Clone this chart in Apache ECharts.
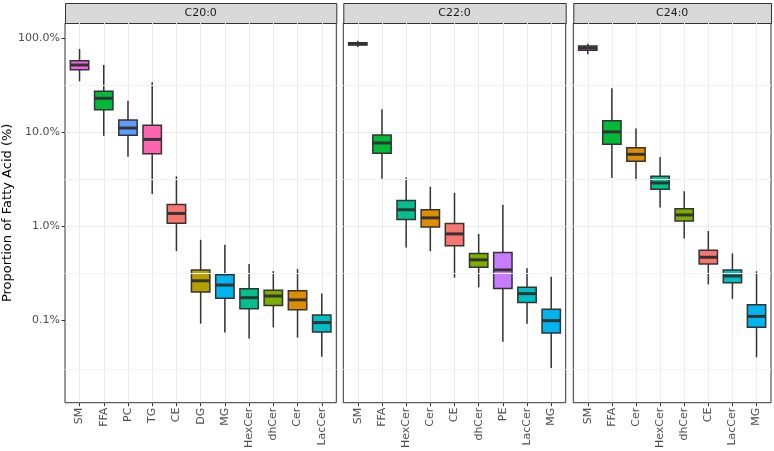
<!DOCTYPE html>
<html>
<head>
<meta charset="utf-8">
<script src="https://cdn.jsdelivr.net/npm/echarts@6/dist/echarts.min.js"></script>
<style>
  html, body { margin: 0; padding: 0; background: #fff; }
  #main { width: 774px; height: 451px; }
</style>
</head>
<body>
<div id="main"></div>
<script>
// facet titles
var facets = ['C20:0', 'C22:0', 'C24:0'];

// lipid classes in each facet, in plotted order
var c20Classes = ['SM', 'FFA', 'PC', 'TG', 'CE', 'DG', 'MG', 'HexCer', 'dhCer', 'Cer', 'LacCer'];
var c22Classes = ['SM', 'FFA', 'HexCer', 'Cer', 'CE', 'dhCer', 'PE', 'LacCer', 'MG'];
var c24Classes = ['SM', 'FFA', 'Cer', 'HexCer', 'dhCer', 'CE', 'LacCer', 'MG'];

// box stats in % : [lower whisker, Q1, median, Q3, upper whisker]
var c20Stats = [
    [34.9, 46.3, 52.0, 57.8, 76.9],
    [9.2, 17.4, 23.0, 27.3, 52.0],
    [5.5, 9.3, 11.1, 13.5, 21.7],
    [2.2, 5.9, 8.4, 11.9, 34.0],
    [0.545, 1.08, 1.37, 1.71, 3.4],
    [0.092, 0.20, 0.263, 0.342, 0.718],
    [0.074, 0.172, 0.237, 0.305, 0.636],
    [0.064, 0.133, 0.174, 0.216, 0.396],
    [0.084, 0.144, 0.181, 0.209, 0.334],
    [0.0655, 0.129, 0.165, 0.206, 0.35],
    [0.041, 0.075, 0.0945, 0.114, 0.193]
];
var c22Stats = [
    [80.8, 84.9, 87.6, 89.8, 94.3],
    [3.2, 6.0, 7.7, 9.35, 17.6],
    [0.595, 1.18, 1.50, 1.88, 3.3],
    [0.545, 0.98, 1.23, 1.50, 2.63],
    [0.284, 0.62, 0.83, 1.07, 2.27],
    [0.224, 0.367, 0.44, 0.514, 0.83],
    [0.059, 0.218, 0.343, 0.527, 1.69],
    [0.092, 0.155, 0.192, 0.224, 0.357],
    [0.031, 0.073, 0.099, 0.131, 0.291]
];
var c24Stats = [
    [67.6, 74.5, 78.8, 82.8, 87.6],
    [3.27, 7.45, 10.1, 13.3, 29.4],
    [3.09, 4.91, 5.83, 6.86, 11.0],
    [1.58, 2.48, 2.89, 3.40, 5.46],
    [0.74, 1.14, 1.32, 1.54, 2.36],
    [0.241, 0.397, 0.468, 0.556, 0.89],
    [0.169, 0.251, 0.296, 0.343, 0.516],
    [0.0404, 0.0843, 0.110, 0.1466, 0.332]
];

// y axis ticks (log10)
var yMajorTicks = [0.1, 1, 10, 100];
var yMinorBreaks = [0.0316, 0.316, 3.16, 31.6];

// ggplot hue colours per class
var classColors = {
    CE: '#F8766D', Cer: '#DE8C00', DG: '#B79F00', dhCer: '#7CAE00',
    FFA: '#00BA38', HexCer: '#00C08B', LacCer: '#00BFC4', MG: '#00B4F0',
    PC: '#619CFF', PE: '#C77CFF', SM: '#F564E3', TG: '#FF64B0'
};

var panels = [
    { title: facets[0], classes: c20Classes, stats: c20Stats },
    { title: facets[1], classes: c22Classes, stats: c22Stats },
    { title: facets[2], classes: c24Classes, stats: c24Stats }
];

var FONT = 'DejaVu Sans';
var panelLeft = [65, 343.3, 573.3];
var panelRight = [336.3, 565.7, 771];
var plotTop = 23, plotBottom = 402.7;
var yMin = 0.01328, yMax = 145.5;

function makeRender(classes) {
    return function (params, api) {
        var x = api.value(0);
        var lo = api.coord([x, api.value(1)]);
        var q1 = api.coord([x, api.value(2)]);
        var md = api.coord([x, api.value(3)]);
        var q3 = api.coord([x, api.value(4)]);
        var hi = api.coord([x, api.value(5)]);
        var bw = api.size([1, 1], [x, api.value(3)])[0] * 0.76;
        var fill = classColors[classes[params.dataIndex]];
        return {
            type: 'group',
            children: [
                { type: 'line', shape: { x1: lo[0], y1: lo[1], x2: hi[0], y2: hi[1] },
                  style: { stroke: '#333333', lineWidth: 1.5 } },
                { type: 'rect', shape: { x: md[0] - bw / 2, y: q3[1], width: bw, height: q1[1] - q3[1] },
                  style: { fill: fill, stroke: '#333333', lineWidth: 1.5 } },
                { type: 'line', shape: { x1: md[0] - bw / 2, y1: md[1], x2: md[0] + bw / 2, y2: md[1] },
                  style: { stroke: '#333333', lineWidth: 3 } }
            ]
        };
    };
}

var chartDom = document.getElementById('main');
var myChart = echarts.init(chartDom);
var grids = [], xAxes = [], yAxes = [], series = [], graphics = [];

panels.forEach(function (p, i) {
    var L = panelLeft[i], W = panelRight[i] - panelLeft[i];
    var n = p.classes.length;
    var step = W / (n + 0.2);
    var plotH = plotBottom - plotTop;

    // panel frame with horizontal grid lines
    grids.push({ left: L, top: plotTop, width: W, height: plotH, show: true,
        backgroundColor: '#ffffff', borderColor: '#333333', borderWidth: 1 });
    xAxes.push({ gridIndex: 2 * i, type: 'value', min: 0, max: 1, show: false });
    yAxes.push({
        gridIndex: 2 * i, type: 'log', logBase: 10, min: yMin, max: yMax,
        name: i === 0 ? 'Proportion of Fatty Acid (%)' : '',
        nameLocation: 'middle', nameGap: 47,
        nameTextStyle: { fontFamily: FONT, fontSize: 13, color: '#000000' },
        axisLine: { show: false },
        axisTick: { show: i === 0, length: 3.5, customValues: yMajorTicks, lineStyle: { color: '#333333' } },
        axisLabel: {
            show: i === 0, margin: 5, fontFamily: FONT, fontSize: 11, color: '#4D4D4D',
            customValues: yMajorTicks,
            formatter: function (v) {
                var l = Math.log10(v);
                if (Math.abs(l - Math.round(l)) > 1e-6) return '';
                return v.toFixed(1) + '%';
            }
        },
        splitLine: { show: true, showMinLine: false, showMaxLine: false, lineStyle: { color: '#EBEBEB', width: 1 } }
    });
    series.push({
        type: 'line', xAxisIndex: 2 * i, yAxisIndex: 2 * i, data: [], silent: true,
        markLine: {
            silent: true, symbol: 'none', label: { show: false }, animation: false,
            lineStyle: { color: '#F3F3F3', width: 1, type: 'solid' },
            data: yMinorBreaks.map(function (v) { return { yAxis: v }; })
        }
    });

    // data area
    grids.push({ left: L + 0.6 * step, top: plotTop, width: (n - 1) * step, height: plotH });
    xAxes.push({
        gridIndex: 2 * i + 1, type: 'category', boundaryGap: false, data: p.classes,
        axisLine: { show: false },
        axisTick: { show: true, interval: 0, length: 3.5, lineStyle: { color: '#333333' } },
        axisLabel: { interval: 0, rotate: 90, margin: 5, fontFamily: FONT, fontSize: 11, color: '#4D4D4D' },
        splitLine: { show: true, interval: 0, lineStyle: { color: '#EBEBEB', width: 1 } }
    });
    yAxes.push({ gridIndex: 2 * i + 1, type: 'log', logBase: 10, min: yMin, max: yMax, show: false,
        splitLine: { show: false } });
    series.push({
        type: 'custom', xAxisIndex: 2 * i + 1, yAxisIndex: 2 * i + 1,
        data: p.stats.map(function (s, k) { return [k].concat(s); }),
        encode: { x: 0, y: [1, 2, 3, 4, 5] },
        renderItem: makeRender(p.classes)
    });

    // facet strip
    graphics.push({
        type: 'rect', left: L, top: 3, shape: { width: W, height: plotTop - 3 },
        style: { fill: '#D9D9D9', stroke: '#333333', lineWidth: 1 }
    });
    graphics.push({
        type: 'text', x: L + W / 2, y: 13,
        style: { text: p.title, font: '11px "' + FONT + '"', fill: '#1A1A1A', align: 'center', verticalAlign: 'middle' }
    });
});

var option = {
    animation: false,
    grid: grids,
    xAxis: xAxes,
    yAxis: yAxes,
    series: series,
    graphic: graphics
};
option && myChart.setOption(option);
</script>
</body>
</html>
